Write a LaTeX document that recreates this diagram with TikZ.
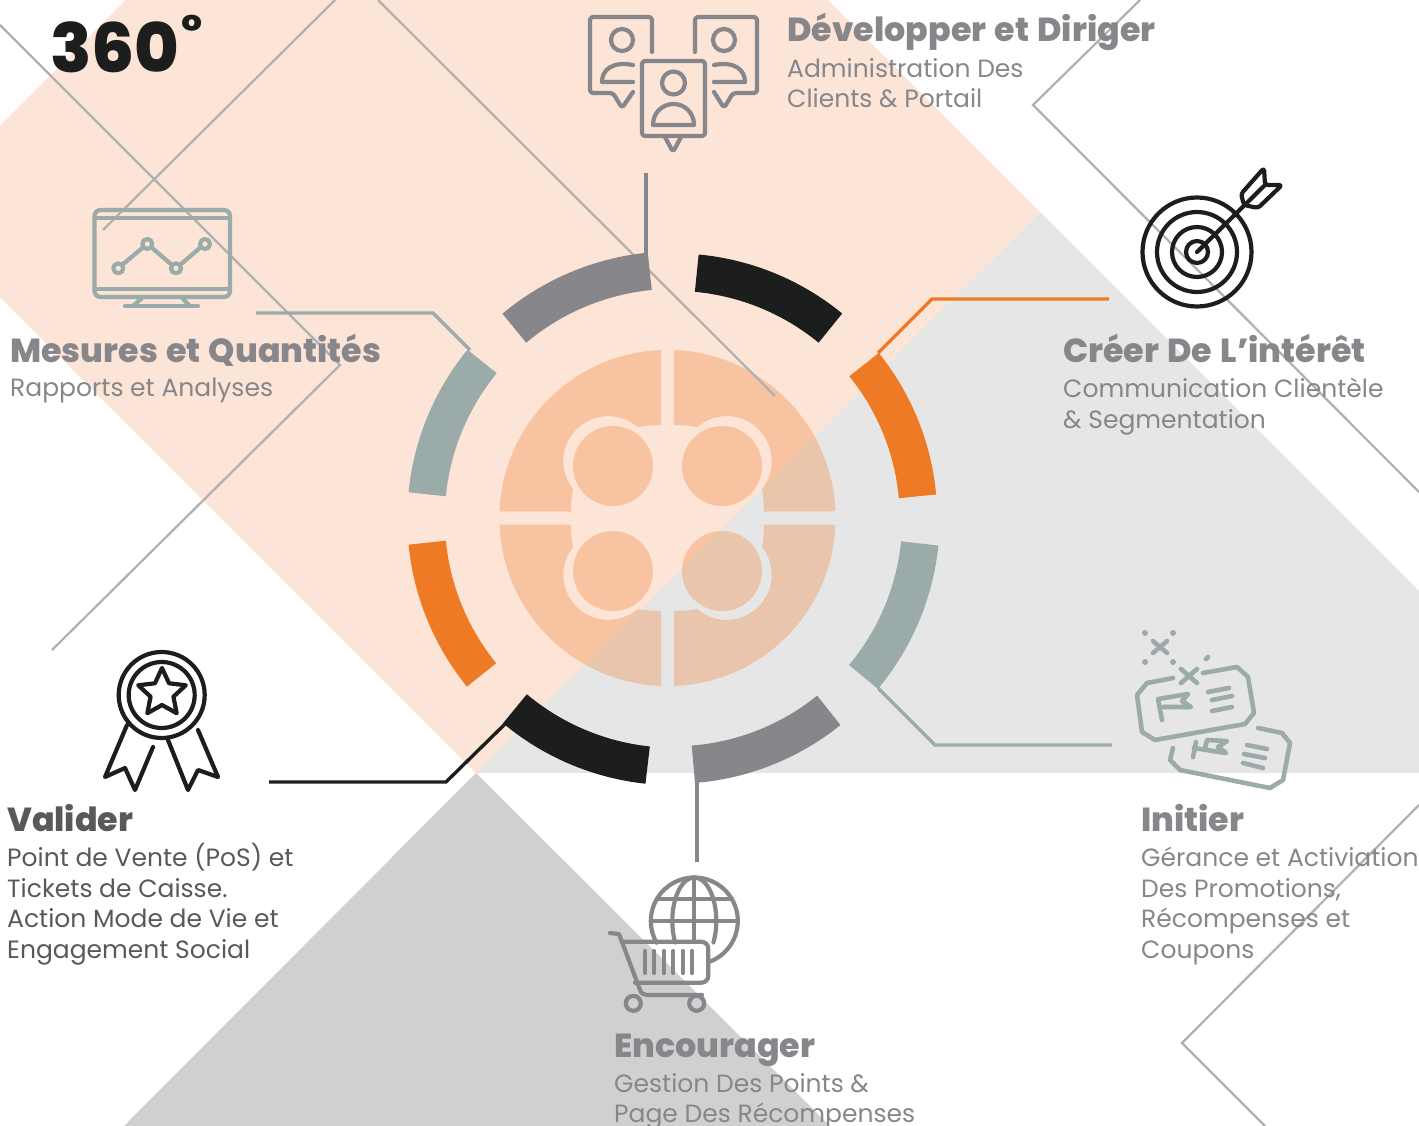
\documentclass[tikz,border=0pt]{standalone}
\usepackage{fontspec}
\setmainfont{Poppins}[BoldFont={Poppins ExtraBold},BoldFeatures={WordSpace=1.3}]
\definecolor{peach}{HTML}{FCE4D6}
\definecolor{seam}{HTML}{FDEBE0}
\definecolor{lightg}{HTML}{E6E6E6}
\definecolor{midg}{HTML}{D0D0D0}
\definecolor{thing}{HTML}{B0B0B0}
\definecolor{ink}{HTML}{1C1E1D}
\definecolor{steel}{HTML}{87868B}
\definecolor{teal2}{HTML}{9AABAA}
\definecolor{carrot}{HTML}{EE7A25}
\definecolor{dark}{HTML}{58595B}
\newcommand{\ringseg}[4]{\draw[ring,#3] ([shift={(#1:#4)}]ctr) arc[start angle=#1,end angle=#2,radius=#4];}
\begin{document}
\begin{tikzpicture}[yscale=-1,x=1pt,y=1pt,
    ring/.style={line width=37.5pt},
    thinline/.style={thing,line width=2.2pt},
    leader/.style={line width=3.4pt,miter limit=10},
    icon/.style={line width=4.2pt,line cap=round,line join=round},
    title/.style={anchor=base west,inner sep=0pt,font=\fontsize{33.3}{40}\selectfont\bfseries},
    body/.style={anchor=north west,inner sep=0pt,align=left,text=steel,font=\fontsize{25}{30.6}\selectfont}]

    \useasboundingbox (0,0) rectangle (1419,1126);
    \clip (0,0) rectangle (1419,1126);

    % background
    \fill[lightg] (1040,212) -- (1419,591) -- (1419,773) -- (476,773) -- cycle;
    \fill[peach] (0,126) -- (126,0) -- (828,0) -- (1040,212) -- (476,773) -- (0,297) -- cycle;
    \fill[midg] (476,773) -- (830,1126) -- (124,1126) -- cycle;
    \draw[seam,line width=0.7pt] (0,211) -- (1039,211);

    \coordinate (ctr) at (674,518.5);

    % petals
    \foreach \sx/\sy in {1/1,-1/1,1/-1,-1/-1}{
        \fill[carrot,opacity=0.3,shift={(667.5,518)},xscale=\sx,yscale=\sy]
            (-6.5,-168) arc[start angle=-92.2,end angle=-177.8,radius=168]
            -- (-96.5,-6.5) .. controls (-96.5,-14) and (-96,-22) .. (-94.5,-29)
            arc[start angle=141.7,end angle=311,radius=45]
            .. controls (-22,-92.5) and (-14,-93) .. (-6.5,-93) -- cycle;
    }
    \foreach \cx/\cy in {613/466,722/466,613/571,722/571}{
        \fill[carrot,opacity=0.3] (\cx,\cy) circle (40);
    }

    % thin lines
    \draw[thinline] (0,25) -- (340,365) -- (52,650);
    \draw[thinline] (335,0) -- (103,230);
    \draw[thinline] (378,0) -- (775,396);
    \draw[thinline] (1140,0) -- (1033,105) -- (1419,492);
    \draw[thinline] (1419,805) -- (1182,1043) -- (1265,1126);

    % leaders
    \coordinate (a1) at (646,173);
    \coordinate (a2) at (646,255);
    \draw[leader,steel] (a1) -- (a2);
    \coordinate (b1) at (256,313);
    \coordinate (b2) at (433,313);
    \coordinate (b3) at (470,350);
    \draw[leader,teal2] (b1) -- (b2) -- (b3);
    \coordinate (c1) at (1109,299);
    \coordinate (c2) at (932,299);
    \coordinate (c3) at (878,353);
    \draw[leader,carrot] (c1) -- (c2) -- (c3);
    \coordinate (d1) at (269,782);
    \coordinate (d2) at (446,782);
    \coordinate (d3) at (505,724);
    \draw[leader,ink] (d1) -- (d2) -- (d3);
    \coordinate (e1) at (1112,745);
    \coordinate (e2) at (935,745);
    \coordinate (e3) at (878,688);
    \draw[leader,teal2] (e1) -- (e2) -- (e3);
    \coordinate (f1) at (697,862);
    \coordinate (f2) at (697,782);
    \draw[leader,steel] (f1) -- (f2);

    % ring
    \ringseg{230}{264.4}{steel}{248.4}
    \ringseg{275.3}{309.4}{ink}{246.4}
    \ringseg{321}{354.8}{carrot}{244.5}
    \ringseg{5.8}{39.9}{teal2}{247}
    \ringseg{51.1}{85.5}{steel}{246.5}
    \ringseg{96.1}{129.9}{ink}{248}
    \ringseg{140.9}{174.4}{carrot}{248}
    \ringseg{185.6}{219.3}{teal2}{248}

    % people icon
    \begin{scope}[icon,steel,rounded corners=3pt]
        \draw (652,52) -- (652,17) -- (590,17) -- (590,93) -- (613,93) -- (622,108) -- (633,92);
        \draw (695,52) -- (695,17) -- (757,17) -- (757,93) -- (733,93) -- (724,108) -- (714,92);
        \draw (642,61) rectangle (705,136);
        \draw (665,137) -- (673,152) -- (681,137);
    \end{scope}
    \begin{scope}[icon,steel]
        \draw (622,40) circle (11);
        \draw (724,40) circle (11);
        \draw (673.5,83) circle (11.5);
        \draw (633,82) -- (602,82) .. controls (602,70) and (612,61) .. (633,65);
        \draw (714,82) -- (745,82) .. controls (745,70) and (735,61) .. (714,65);
        \draw (653,125) -- (694,125) .. controls (694,112) and (684,104) .. (673.5,104) .. controls (663,104) and (653,112) .. (653,125) -- cycle;
    \end{scope}

    % monitor icon
    \begin{scope}[icon,teal2]
        \draw[rounded corners=6pt] (94.5,210) rectangle (230,297);
        \draw (94.5,218) -- (230,218);
        \draw (94.5,289) -- (230,289);
        \draw (142,298) -- (133,306);
        \draw (182,298) -- (190,306);
        \draw (125,306) -- (198,306);
        \draw (118.3,268.3) circle (5);
        \draw (147.3,244) circle (5);
        \draw (176,268.3) circle (5);
        \draw (205,244) circle (5);
        \draw (122,265) -- (143.5,247);
        \draw (151,247) -- (172,265);
        \draw (180,265) -- (201,247);
    \end{scope}

    % target icon
    \begin{scope}[icon,ink]
        \draw (1197,252) circle (54.5);
        \draw (1197,252) circle (40);
        \draw (1197,252) circle (25);
        \draw (1197,252) circle (11);
        \draw (1197,252) -- (1265,185);
        \draw[rounded corners=3pt] (1244,205) -- (1241,194) -- (1264,168) -- (1265,185) -- (1282,185) -- (1258,208) -- cycle;
    \end{scope}

    % ticket icon
    \begin{scope}[icon,teal2,line width=4.6pt]
        \draw (1173,678) -- (1147,683) -- (1137,695) -- (1142,732) -- (1155,740) -- (1245,724) -- (1254,713) -- (1248,677) -- (1237,667) -- (1203,673);
        \draw (1162,720) -- (1158,699) -- (1188,694) -- (1182,701) -- (1191,707) -- (1163,707);
        \draw (1208,692) -- (1229,688);
        \draw (1212,700) -- (1232,696);
        \draw (1212,711) -- (1232,707);
        \draw (1153,641) -- (1167,653);
        \draw (1167,641) -- (1153,653);
        \draw (1181,669) -- (1197,683);
        \draw (1197,669) -- (1181,683);
        \fill (1145,633) circle (3);
        \fill (1173,633) circle (3);
        \fill (1145,662) circle (3);
        \fill (1173,662) circle (3);
        \draw (1206,659) -- (1208,657);
        \draw (1258,728) -- (1282,733) -- (1290,743) -- (1283,780) -- (1270,788) -- (1180,770) -- (1170,760) -- (1173,748);
        \draw (1196,742) -- (1193,757);
        \draw (1194,748) -- (1226,753) -- (1218,747) -- (1227,741) -- (1207,740) -- (1205,748);
        \draw (1247,745) -- (1267,749);
        \draw (1244,754) -- (1265,758);
        \draw (1243,763) -- (1263,768);
    \end{scope}

    % cart icon
    \begin{scope}[icon,steel]
        \draw (694.3,921) ++(70:43.5) arc[start angle=70,end angle=-210,radius=43.5];
        \draw (694.3,877.5) -- (694.3,942);
        \draw (694.3,877.5) arc[start angle=-90,end angle=29.6,x radius=22,y radius=43.5];
        \draw (694.3,877.5) arc[start angle=-90,end angle=-209.6,x radius=22,y radius=43.5];
        \draw (657,899) -- (732,899);
        \draw (651,921) -- (738,921);
        \draw (610,933) -- (619,934) -- (640,990) .. controls (641,994) and (645,995) .. (649,995) -- (702,995);
        \draw[rounded corners=7pt] (622,941.7) -- (708.3,941.7) -- (708.3,982.7) -- (635,982.7);
        \foreach \bx in {645,654.3,663.7,673.3,682.7,692}{
            \draw (\bx,951) -- (\bx,973);
        }
        \draw (633.3,1003.3) circle (7.5);
        \draw (696.7,1003.3) circle (7.5);
    \end{scope}

    % medal icon
    \begin{scope}[icon,ink]
        \draw (161.7,695) circle (43);
        \draw (161.7,695) ++(-3:33) arc[start angle=-3,end angle=-360,radius=33];
        \draw[shift={(162,693)}] (-90:25) -- (-54:12) -- (-18:25) -- (18:12) -- (54:25) -- (90:12) -- (126:25) -- (162:12) -- (198:25) -- (234:12) -- cycle;
        \draw (127,725) -- (105,777) -- (125,768) -- (135,790) -- (153,747);
        \draw (168,740) -- (188,790) -- (198,770) -- (218,777) -- (198,730);
    \end{scope}

    % texts
    \node[anchor=base west,inner sep=0pt,text=ink,font=\fontsize{68}{70}\selectfont\bfseries] (num) at (50,73) {360};
    \node[anchor=center,inner sep=0pt,text=ink,font=\fontsize{44}{50}\selectfont\bfseries] (deg) at (192,31) {°};
    \node[title,text=steel] (dev) at (787,42) {Développer et Diriger};
    \node[body] (devtxt) at (787,58) {Administration Des\\Clients \& Portail};
    \node[title,text=steel] (mes) at (10,362) {Mesures et Quantités};
    \node[body] (mestxt) at (10,378) {Rapports et Analyses};
    \node[title,text=steel] (cre) at (1063,362) {Créer De L’intérêt};
    \node[body] (cretxt) at (1063,378) {Communication Clientèle\\\& Segmentation};
    \node[title,text=dark] (val) at (7,831) {Valider};
    \node[body,text=dark] (valtxt) at (7,843) {Point de Vente (PoS) et\\Tickets de Caisse.\\Action Mode de Vie et\\Engagement Social};
    \node[title,text=steel] (ini) at (1141,831) {Initier};
    \node[body] (initxt) at (1141,847) {Gérance et Activiation\\Des Promotions,\\Récompenses et\\Coupons};
    \node[title,text=steel] (enc) at (614,1057) {Encourager};
    \node[body] (enctxt) at (614,1073) {Gestion Des Points \&\\Page Des Récompenses};
\end{tikzpicture}
\end{document}
